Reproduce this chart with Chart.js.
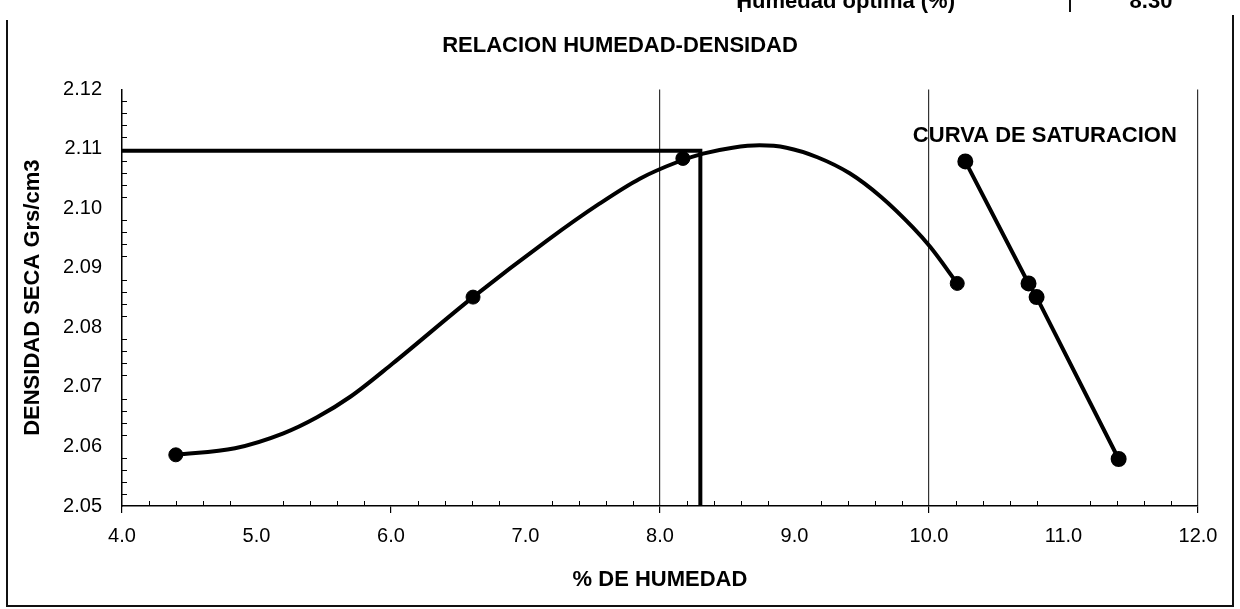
<!DOCTYPE html>
<html lang="es">
<head>
<meta charset="utf-8">
<title>Relacion humedad-densidad</title>
<script src="https://cdn.jsdelivr.net/npm/chart.js@4.4.1/dist/chart.umd.min.js"></script>
<style>
  html, body { margin: 0; padding: 0; background: #fff; }
  #grafico { display: block; }
</style>
</head>
<body>
<canvas id="grafico" width="1240" height="609"></canvas>
<script>
// Puntos del ensayo (humedad %, densidad seca)
const humedadEnsayo = [4.40, 6.61, 8.17, 10.21];
const densidadEnsayo = [2.0586, 2.0851, 2.1084, 2.0874];

// Curva de compactacion
const humedadCurva = [4.40, 4.84, 5.20, 5.45, 5.70, 6.01, 6.61, 7.16, 7.55, 7.85, 8.13, 8.32, 8.54, 8.74, 8.94, 9.17, 9.41, 9.64, 9.88, 10.01, 10.21];
const densidadCurva = [2.0586, 2.0597, 2.0622, 2.0649, 2.0684, 2.0739, 2.0851, 2.0946, 2.1008, 2.1050, 2.1078, 2.1092, 2.1102, 2.1106, 2.1102, 2.1086, 2.1059, 2.1020, 2.0968, 2.0935, 2.0874];

// Curva de saturacion
const humedadSaturacion = [10.27, 10.74, 10.80, 11.41];
const densidadSaturacion = [2.1079, 2.0874, 2.0851, 2.0579];

// Resultado
const humedadOptima = 8.30;
const densidadMaxima = 2.1097;

// Ejes
const rangoHumedad = [4, 12];
const rangoDensidad = [2.05, 2.12];
const pasoHumedad = 1;
const pasoDensidad = 0.01;
const lineasGuia = [8, 10, 12]; // lineas verticales de la grilla

const fuente = '"Liberation Sans", Arial, sans-serif';
Chart.defaults.font.family = fuente;
Chart.defaults.color = '#000';

const pares = (xs, ys) => xs.map((v, i) => ({ x: v, y: ys[i] }));

// marcas menores hacia adentro, marco exterior y textos sueltos
const decoracion = {
    id: 'decoracion',
    afterDatasetsDraw(chart) {
        const { ctx, scales: { x, y } } = chart;
        ctx.save();
        ctx.strokeStyle = '#000';
        ctx.lineWidth = 1;
        ctx.beginPath();
        for (let i = 1; i < 40; i++) {
            if (i % 5 === 0) continue;
            const px = Math.round(x.getPixelForValue(rangoHumedad[0] + i * 0.2)) + 0.5;
            ctx.moveTo(px, y.bottom);
            ctx.lineTo(px, y.bottom - 5);
        }
        for (let i = 1; i < 35; i++) {
            if (i % 5 === 0) continue;
            const py = Math.round(y.getPixelForValue(rangoDensidad[0] + i * 0.002)) + 0.5;
            ctx.moveTo(x.left, py);
            ctx.lineTo(x.left + 5, py);
        }
        ctx.stroke();

        // etiqueta de la curva de saturacion
        ctx.font = 'bold 22px ' + fuente;
        ctx.fillStyle = '#000';
        ctx.textAlign = 'left';
        ctx.textBaseline = 'middle';
        ctx.fillText('CURVA DE SATURACION', x.getPixelForValue(9.88), y.getPixelForValue(2.1121));
        ctx.restore();
    },
    afterDraw(chart) {
        const { ctx } = chart;
        ctx.save();
        ctx.strokeStyle = '#111';
        ctx.lineWidth = 2;
        ctx.beginPath();
        ctx.moveTo(7, 20); ctx.lineTo(7, 606); ctx.lineTo(1233, 606); ctx.lineTo(1233, 15);
        ctx.moveTo(741, 0); ctx.lineTo(741, 12);
        ctx.moveTo(1070, 0); ctx.lineTo(1070, 12);
        ctx.stroke();

        // fila de la tabla superior (cortada por el borde)
        ctx.font = 'bold 22px ' + fuente;
        ctx.fillStyle = '#000';
        ctx.textBaseline = 'alphabetic';
        ctx.textAlign = 'right';
        ctx.fillText('Humedad optima (%)', 955, 8);
        ctx.textAlign = 'center';
        ctx.fillText(humedadOptima.toFixed(2), 1151, 8);
        ctx.restore();
    }
};

new Chart(document.getElementById('grafico'), {
    type: 'scatter',
    data: {
        datasets: [
            {
                label: 'Curva',
                data: pares(humedadCurva, densidadCurva),
                showLine: true,
                cubicInterpolationMode: 'monotone',
                borderColor: '#000',
                borderWidth: 4,
                pointRadius: 0
            },
            {
                label: 'Ensayo',
                data: pares(humedadEnsayo, densidadEnsayo),
                showLine: false,
                pointRadius: 7,
                backgroundColor: '#000',
                borderColor: '#000'
            },
            {
                label: 'Saturacion',
                data: pares(humedadSaturacion, densidadSaturacion),
                showLine: true,
                tension: 0,
                borderColor: '#000',
                borderWidth: 4,
                pointRadius: 6,
                backgroundColor: '#000'
            },
            {
                label: 'Optimo',
                data: [
                    { x: rangoHumedad[0], y: densidadMaxima },
                    { x: humedadOptima, y: densidadMaxima },
                    { x: humedadOptima, y: rangoDensidad[0] }
                ],
                showLine: true,
                tension: 0,
                borderColor: '#000',
                borderWidth: 4,
                pointRadius: 0
            }
        ]
    },
    options: {
        responsive: false,
        animation: false,
        layout: { padding: 0 },
        plugins: {
            legend: { display: false },
            tooltip: { enabled: false },
            title: {
                display: true,
                text: 'RELACION HUMEDAD-DENSIDAD',
                font: { size: 22, weight: 'bold' },
                padding: { top: 33, bottom: 30 }
            }
        },
        scales: {
            x: {
                type: 'linear',
                min: rangoHumedad[0],
                max: rangoHumedad[1],
                afterFit: (s) => { s.height = 103; },
                ticks: {
                    stepSize: pasoHumedad,
                    font: { size: 20 },
                    padding: 11,
                    maxRotation: 0,
                    callback: (v) => Number(v).toFixed(1)
                },
                grid: {
                    color: (c) => lineasGuia.includes(c.tick && c.tick.value) ? '#333' : 'rgba(0,0,0,0)',
                    tickColor: (c) => (c.tick && c.tick.value % 2 === 0) ? '#000' : 'rgba(0,0,0,0)',
                    lineWidth: 1.2,
                    tickLength: 7
                },
                border: { display: true, color: '#000', width: 1.5 },
                title: {
                    display: true,
                    text: '% DE HUMEDAD',
                    font: { size: 22, weight: 'bold' },
                    padding: { top: 0, bottom: 16 }
                }
            },
            y: {
                type: 'linear',
                min: rangoDensidad[0],
                max: rangoDensidad[1],
                afterFit: (s) => { s.width = 122; },
                ticks: {
                    stepSize: pasoDensidad,
                    font: { size: 20 },
                    padding: 20,
                    callback: (v) => Number(v).toFixed(2)
                },
                grid: { display: false, drawTicks: false },
                border: { display: true, color: '#000', width: 1.5 },
                title: {
                    display: true,
                    text: 'DENSIDAD SECA Grs/cm3',
                    font: { size: 22, weight: 'bold' },
                    padding: { top: 20, bottom: 0 }
                }
            },
            derecha: {
                type: 'linear',
                position: 'right',
                afterFit: (s) => { s.width = 42; },
                ticks: { display: false },
                grid: { display: false, drawTicks: false },
                border: { display: false }
            }
        }
    },
    plugins: [decoracion]
});
</script>
</body>
</html>
